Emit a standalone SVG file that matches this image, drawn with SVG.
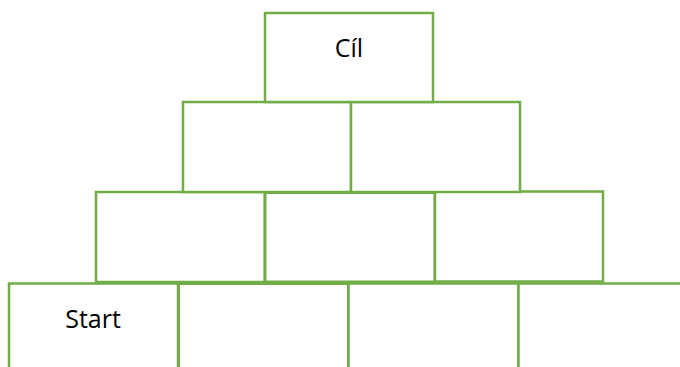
<svg xmlns="http://www.w3.org/2000/svg" width="680" height="367" viewBox="0 0 680 367">
<style>
.b{fill:#fff;stroke:#70AD47;stroke-width:2.5}
.t{font-family:"Open Sans","Liberation Sans",sans-serif;font-size:25px;fill:#000;text-anchor:middle}
</style>
<rect width="680" height="367" fill="#fff"/>
<g id="row4">
<g id="b4a"><rect class="b" x="9" y="283.5" width="169" height="95"/><text class="t" x="93" y="328">Start</text></g>
<g id="b4b"><rect class="b" x="178.5" y="283.5" width="170" height="95" style="stroke-width:3"/></g>
<g id="b4c"><rect class="b" x="348.5" y="283.5" width="170" height="95"/></g>
<g id="b4d"><rect class="b" x="518.5" y="283.5" width="170" height="95"/></g>
</g>
<g id="row3">
<g id="b3a"><rect class="b" x="96" y="192" width="169" height="90"/></g>
<g id="b3b"><rect class="b" x="265" y="192.5" width="170" height="89.5" style="stroke-width:3"/></g>
<g id="b3c"><rect class="b" x="435" y="191.5" width="168" height="90"/></g>
</g>
<g id="row2">
<g id="b2a"><rect class="b" x="183" y="102" width="168" height="90"/></g>
<g id="b2b"><rect class="b" x="351" y="102" width="169" height="90"/></g>
</g>
<g id="top">
<g id="goal"><rect class="b" x="265" y="13" width="168" height="89"/><text class="t" x="349" y="57">Cíl</text></g>
</g>
</svg>
